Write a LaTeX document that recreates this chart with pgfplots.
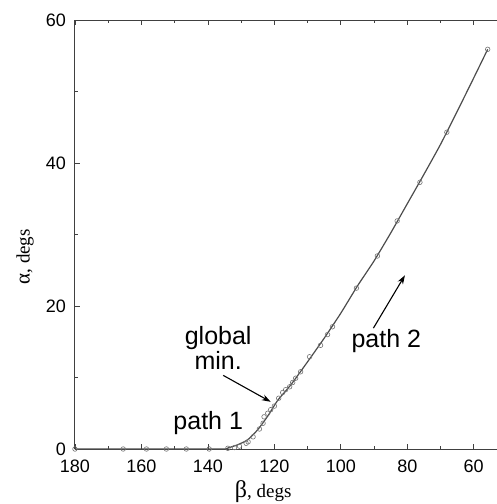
\documentclass[border=0pt]{standalone}
\usepackage{fontspec}
\setmainfont{Liberation Sans}
\newfontfamily\serif{Liberation Serif}
\usepackage{pgfplots}
\pgfplotsset{compat=1.18}
\usetikzlibrary{arrows.meta}
\begin{document}
\begin{tikzpicture}
\path[use as bounding box] (-75pt,-55pt) rectangle (422pt,449pt);
\begin{axis}[
  scale only axis, width=422pt, height=429pt,
  at={(0,0)}, anchor=south west,
  x dir=reverse, xmin=53, xmax=180, ymin=0, ymax=60,
  axis x line*=box, axis y line*=left,
  xtick={60,80,...,180}, ytick={0,20,40,60},
  minor xtick={70,90,...,170}, minor ytick={10,30,50},
  tick align=inside, major tick length=5pt, minor tick length=3pt,
  axis line style={line width=1pt, black!75},
  every tick/.style={black!75, line width=0.8pt},
  tick label style={font=\fontsize{18}{18}\selectfont, inner sep=0pt},
  /pgf/number format/assume math mode=true,
  xticklabel style={yshift=-11pt},
  yticklabel style={xshift=-9pt},
  xlabel={{\serif\fontsize{24}{24}\selectfont β}{\serif\fontsize{19}{19}\selectfont , degs}},
  xlabel style={at={(axis description cs:0.446,-0.1)}, anchor=center},
  ylabel={{\serif\fontsize{21}{21}\selectfont α}{\serif\fontsize{19}{19}\selectfont , degs}},
  ylabel style={at={(axis description cs:-0.118,0.448)}, anchor=center},
  clip=false,
]
\addplot[smooth, tension=0.35, black!70, line width=1.2pt] coordinates {
(180,0) (137,0) (134,0.15) (131,0.6) (128,1.3) (125,2.7) (122,4.6) (119,6.8)
(115,9.0) (110,12.2) (105,15.5) (100,19.0) (95,22.8) (90,26.3) (85,30.2)
(80,34.3) (75,38.4) (70,42.6) (65,47.2) (60,51.9) (55.8,55.9)};
\addplot[only marks, mark=o, mark size=2.3pt, mark options={draw=black!55, line width=0.6pt}] coordinates {
(180,0) (165.5,0) (158.5,0) (152.5,0) (146.5,0) (139.6,0) (134,0.1) (132,0.2)
(130.5,0.4) (128.5,0.8) (127.9,1.0) (126.4,1.7) (124.5,2.8) (123.4,3.6) (123.1,4.5)
(122,5.0) (121.1,5.5) (120,6.0) (118.7,7.1) (117.5,7.9) (116.6,8.3) (115.4,8.7)
(114.5,9.3) (113.6,9.9) (112.1,10.8) (109.4,12.9) (106.1,14.5) (104,16)
(102.5,17.1) (95.3,22.5) (89.0,27.0) (83.05,31.9) (76.2,37.3) (68.1,44.3) (55.8,55.9)};
\node[align=center, font=\fontsize{25}{25}\selectfont, inner sep=0pt] at (axis cs:136.9,14.2) {global\\min.};
\node[font=\fontsize{25}{25}\selectfont, inner sep=0pt] at (axis cs:139.9,3.7) {path 1};
\node[font=\fontsize{25}{25}\selectfont, inner sep=0pt] at (axis cs:86.3,15.1) {path 2};
\draw[-{Stealth[length=9pt,width=6pt]}, line width=1.1pt] (axis cs:135.4,10.3) -- (axis cs:121.1,6.6);
\draw[-{Stealth[length=9pt,width=6pt]}, line width=1.1pt] (axis cs:90.2,16.9) -- (axis cs:80.7,24.3);
\end{axis}
\end{tikzpicture}
\end{document}
